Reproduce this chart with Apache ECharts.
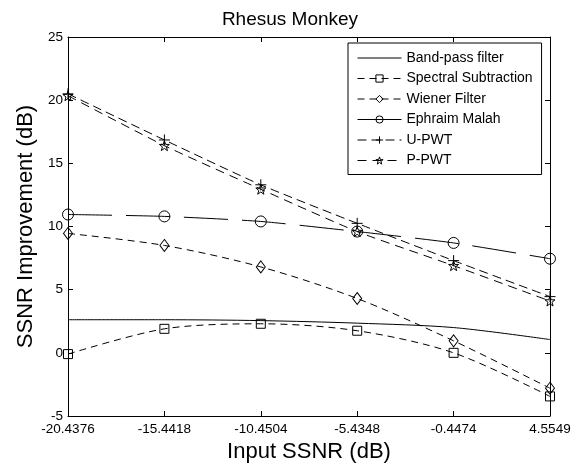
<!DOCTYPE html>
<html>
<head>
<meta charset="utf-8">
<script src="https://cdn.jsdelivr.net/npm/echarts@6/dist/echarts.min.js"></script>
<style>
html,body{margin:0;padding:0;background:#fff;}
#c{width:580px;height:468px;}
</style>
</head>
<body>
<div id="c"></div>
<script>
const categories = ['-20.4376', '-15.4418', '-10.4504', '-5.4348', '-0.4474', '4.5549'];
const bandPass = [2.62, 2.62, 2.55, 2.35, 2.0, 1.05];
const spectralSub = [-0.1, 1.9, 2.3, 1.75, 0.0, -3.45];
const wienerFilter = [9.45, 8.5, 6.8, 4.3, 0.95, -2.8];
const ephraimMalah = [10.95, 10.8, 10.4, 9.6, 8.7, 7.45];
const uPWT = [20.5, 16.85, 13.3, 10.25, 7.3, 4.45];
const pPWT = [20.35, 16.4, 12.95, 9.6, 6.9, 4.1];
const seriesNames = ['Band-pass filter', 'Spectral Subtraction', 'Wiener Filter', 'Ephraim Malah', 'U-PWT', 'P-PWT'];
const yTicks = {min: -5, max: 25, interval: 5};

const FONT = '"Liberation Sans", Arial, Helvetica, sans-serif';
const plusPath = 'path://M5,0 L5,10 M0,5 L10,5';
const starPath = 'path://M0,-10 L2.35,-3.24 L9.51,-3.09 L3.80,1.24 L5.88,8.09 L0,4 L-5.88,8.09 L-3.80,1.24 L-9.51,-3.09 L-2.35,-3.24 Z';

function mk(name, data, symbol, size, dash, smooth) {
  return {
    name: name, type: 'line', data: data,
    xAxisIndex: 0, yAxisIndex: 0,
    smooth: smooth,
    symbol: symbol, symbolSize: size,
    showSymbol: symbol !== 'none',
    lineStyle: {color: '#000', width: 1, type: dash},
    itemStyle: {color: 'rgba(0,0,0,0)', borderColor: '#000', borderWidth: 1},
    emphasis: {disabled: true},
    animation: false
  };
}

const chart = echarts.init(document.getElementById('c'), null, {renderer: 'canvas'});
const axisCommon = {
  axisLine: {show: true, onZero: false, lineStyle: {color: '#000', width: 1}},
  axisTick: {show: true, inside: true, length: 5, lineStyle: {color: '#000'}},
  splitLine: {show: false}
};
const legendData = seriesNames.map(function (n, i) {
  return i === 0
    ? {name: n, itemStyle: {color: 'rgba(0,0,0,0)', borderColor: 'rgba(0,0,0,0)', borderWidth: 0}}
    : {name: n};
});
chart.setOption({
  animation: false,
  backgroundColor: '#fff',
  title: {
    text: 'Rhesus Monkey', left: 'center', top: 5,
    textStyle: {fontFamily: FONT, fontSize: 19, fontWeight: 'normal', color: '#000'}
  },
  grid: {left: 68, right: 30, top: 37, bottom: 52, containLabel: false, outerBoundsMode: 'none'},
  legend: {
    orient: 'vertical', left: 348, top: 43,
    padding: [8, 9, 7, 9],
    itemWidth: 44, itemHeight: 9, itemGap: 6.5,
    backgroundColor: '#fff', borderColor: '#000', borderWidth: 1, borderRadius: 0,
    lineStyle: {width: 1},
    itemStyle: {borderWidth: 1},
    textStyle: {fontFamily: FONT, fontSize: 14, color: '#000'},
    data: legendData
  },
  xAxis: [
    Object.assign({
      type: 'category', data: categories, boundaryGap: false, position: 'bottom',
      name: 'Input SSNR (dB)', nameLocation: 'middle', nameGap: 13,
      nameTextStyle: {fontFamily: FONT, fontSize: 22, color: '#000'},
      axisLabel: {fontFamily: FONT, fontSize: 13.5, color: '#000', margin: 6, showMinLabel: true, showMaxLabel: true, interval: 0}
    }, axisCommon),
    Object.assign({
      type: 'category', data: categories, boundaryGap: false, position: 'top',
      axisLabel: {show: false}
    }, axisCommon)
  ],
  yAxis: [
    Object.assign({
      type: 'value', min: yTicks.min, max: yTicks.max, interval: yTicks.interval, position: 'left',
      name: 'SSNR Improvement (dB)', nameLocation: 'middle', nameGap: 26,
      nameTextStyle: {fontFamily: FONT, fontSize: 22, color: '#000'},
      axisLabel: {fontFamily: FONT, fontSize: 13.5, color: '#000', margin: 5}
    }, axisCommon),
    Object.assign({
      type: 'value', min: yTicks.min, max: yTicks.max, interval: yTicks.interval, position: 'right',
      axisLabel: {show: false}
    }, axisCommon)
  ],
  series: [
    mk(seriesNames[0], bandPass, 'none', 0, 'solid', 0.3),
    mk(seriesNames[1], spectralSub, 'rect', 9, [7, 5], 0.3),
    mk(seriesNames[2], wienerFilter, 'diamond', [9, 12], [7, 5], 0.3),
    mk(seriesNames[3], ephraimMalah, 'circle', 11, [44, 14], 0.2),
    mk(seriesNames[4], uPWT, plusPath, 11, [9, 5], 0.2),
    mk(seriesNames[5], pPWT, starPath, 10, [9, 6], 0.2)
  ]
});
</script>
</body>
</html>
